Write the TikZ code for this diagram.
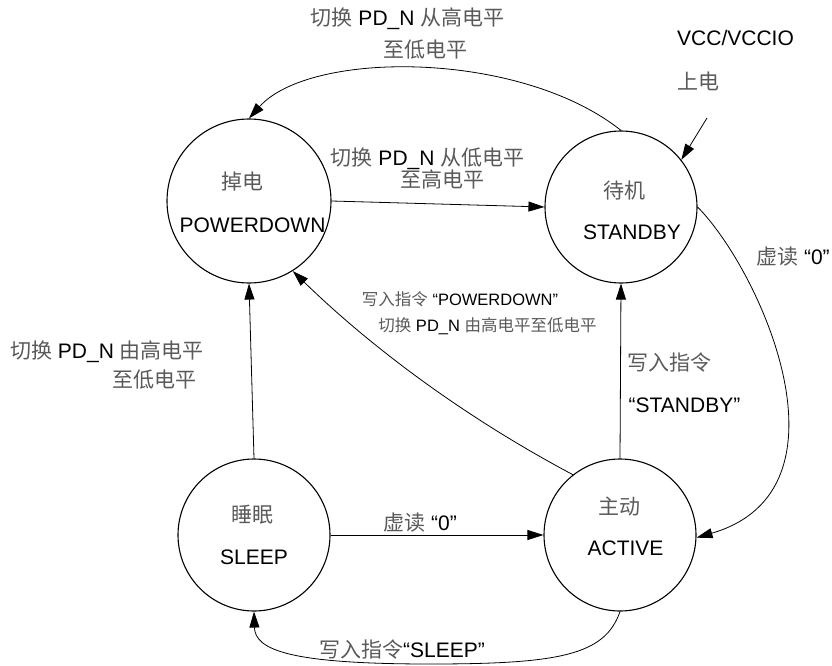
\documentclass[tikz,border=0pt]{standalone}
\usepackage{fontspec}
\setmainfont{Liberation Sans}
\newfontfamily\cjk{Noto Sans CJK SC}
\usetikzlibrary{arrows.meta}
\definecolor{zhgray}{HTML}{5A5A5A}
\newcommand\zh[1]{{\cjk\color{zhgray}#1}}
\begin{document}
\begin{tikzpicture}[x=1pt,y=-1pt,
  state/.style={circle,draw,line width=1.1pt,inner sep=0pt,minimum size=152pt},
  conn/.style={line width=0.8pt,-{Triangle[length=16pt,width=10pt]}},
  txt/.style={font=\fontsize{21}{25}\selectfont,inner sep=0pt,anchor=base},
  stxt/.style={font=\fontsize{16.5}{20}\selectfont,inner sep=0pt,anchor=base}]
\useasboundingbox (0,0) rectangle (832,666);
% states
\node[state,minimum size=164pt] (pd) at (249,201) {};
\node[state] (sb) at (621,207) {};
\node[state] (sl) at (254,535) {};
\node[state] (ac) at (620,535) {};
% state texts
\node[txt] (pdz) at (242,189.5) {\zh{掉电}};
\node[txt] (pde) at (252.5,232) {POWERDOWN};
\node[txt] (sbz) at (624.5,198.5) {\zh{待机}};
\node[txt] (sbe) at (632,239) {STANDBY};
\node[txt] (slz) at (252,522) {\zh{睡眠}};
\node[txt] (sle) at (254,564) {SLEEP};
\node[txt] (acz) at (619,514) {\zh{主动}};
\node[txt] (ace) at (625.5,555) {ACTIVE};
% edge labels
\node[txt] (l1a) at (407.5,25.5) {\zh{切换} PD\_N \zh{从高电平}};
\node[txt] (l1b) at (425,57.5) {\zh{至低电平}};
\node[txt,anchor=base west] (vcc) at (677,45.5) {VCC/VCCIO};
\node[txt,anchor=base west] (sd) at (677,89.5) {\zh{上电}};
\node[txt] (l2a) at (427.5,165.5) {\zh{切换} PD\_N \zh{从低电平}};
\node[txt] (l2b) at (442.5,187.5) {\zh{至高电平}};
\node[txt,anchor=base west] (l3) at (756,264) {\zh{虚读} “0”};
\node[stxt] (l4a) at (460,305) {\zh{写入指令} “POWERDOWN”};
\node[stxt] (l4b) at (487.5,331) {\zh{切换} PD\_N \zh{由高电平至低电平}};
\node[txt] (l5a) at (107,358.5) {\zh{切换} PD\_N \zh{由高电平}};
\node[txt] (l5b) at (154.5,387) {\zh{至低电平}};
\node[txt] (l6a) at (669.5,370) {\zh{写入指令}};
\node[txt] (l6b) at (684.5,412) {“STANDBY”};
\node[txt] (l7) at (420,530) {\zh{虚读} “0”};
\node[txt] (l8) at (402,657) {\zh{写入指令}“SLEEP”};
% connectors
\coordinate (vin) at (707,118);
\draw[conn] (sb.90) .. controls (520,50) and (310,50) .. (pd.90);
\draw[conn] (pd.east) -- (sb.west);
\draw[conn] (vin) -- (sb.38);
\draw[conn] (sb.east) .. controls (760,270) and (860,490) .. (ac.-2);
\draw[conn] (ac.north) -- (sb.south);
\draw[conn] (ac.128) .. controls (468,419) and (374,350) .. (pd.-58);
\draw[conn] (sl.north) -- (pd.south);
\draw[conn] (sl.east) -- (ac.west);
\draw[conn] (ac.south) .. controls (605,655) and (560,664) .. (430,664) .. controls (290,664) and (255,650) .. (sl.south);
\end{tikzpicture}
\end{document}
